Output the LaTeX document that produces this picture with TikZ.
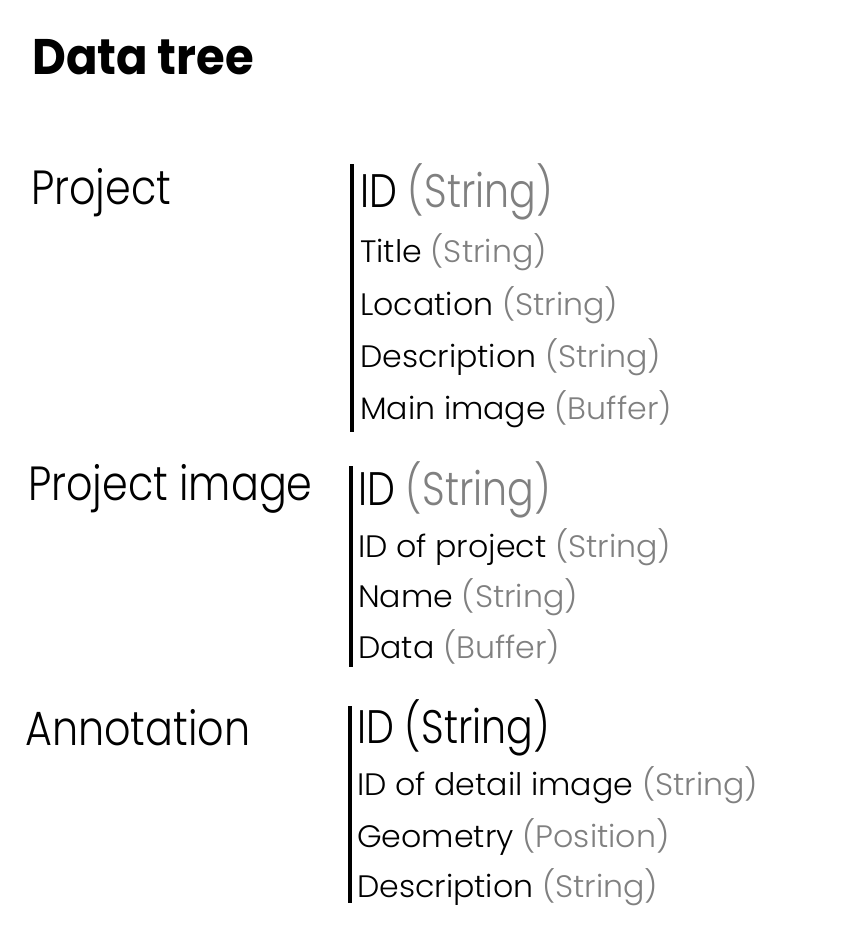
\documentclass[tikz,border=0pt]{standalone}
\usepackage{fontspec}
\setmainfont{Poppins}[UprightFont=* Light, BoldFont=* Bold]
\newfontfamily\ttlfont{Poppins}[UprightFont=* Bold, FakeStretch=0.93]
\newfontfamily\labfont{Poppins}[UprightFont=* Light, FakeStretch=0.86]
\newfontfamily\idfont{Poppins}[UprightFont=* Light, FakeStretch=0.84]
\newfontfamily\fldfont{Poppins}[UprightFont=* Light, FakeStretch=1.02]
\definecolor{typegray}{gray}{0.5}
\begin{document}
\begin{tikzpicture}[x=1pt,y=-1pt,
  every node/.style={anchor=base west, inner sep=0pt},
  ttl/.style={font=\ttlfont\fontsize{50}{60}\selectfont},
  lab/.style={font=\labfont\fontsize{48}{58}\selectfont},
  idf/.style={font=\idfont\fontsize{47}{56}\selectfont},
  fld/.style={font=\fldfont\fontsize{31}{38}\selectfont},
  bar/.style={line width=3.5pt},
  tp/.style={text=typegray}]
\useasboundingbox[fill=white] (0,0) rectangle (852,939);
\node[ttl] (title) at (32,75) {Data tree};
% Project
\node[lab] (p) at (31,204) {Project};
\coordinate (p1) at (352,164);
\coordinate (p2) at (352,432);
\draw[bar] (p1) -- (p2);
\node[idf] (pid) at (360,207) {ID \textcolor{typegray}{(String)}};
\node[fld] (pt) at (360,262) {Title \textcolor{typegray}{(String)}};
\node[fld] (pl) at (360,315) {Location \textcolor{typegray}{(String)}};
\node[fld] (pd) at (360,367) {Description \textcolor{typegray}{(String)}};
\node[fld] (pm) at (360,419) {Main image \textcolor{typegray}{(Buffer)}};
% Project image
\node[lab] (pi) at (28,500) {Project image};
\coordinate (q1) at (351,466);
\coordinate (q2) at (351,667);
\draw[bar] (q1) -- (q2);
\node[idf] (qid) at (358,505) {ID \textcolor{typegray}{(String)}};
\node[fld] (qp) at (358,557) {ID of project \textcolor{typegray}{(String)}};
\node[fld] (qn) at (358,607) {Name \textcolor{typegray}{(String)}};
\node[fld] (qd) at (358,658) {Data \textcolor{typegray}{(Buffer)}};
% Annotation
\node[lab] (an) at (25,745) {Annotation};
\coordinate (a1) at (350,706);
\coordinate (a2) at (350,903);
\draw[bar] (a1) -- (a2);
\node[idf] (aid) at (357,743) {ID (String)};
\node[fld] (ad) at (357,795) {ID of detail image \textcolor{typegray}{(String)}};
\node[fld] (ag) at (357,847) {Geometry \textcolor{typegray}{(Position)}};
\node[fld] (ads) at (357,897) {Description \textcolor{typegray}{(String)}};
\end{tikzpicture}
\end{document}
